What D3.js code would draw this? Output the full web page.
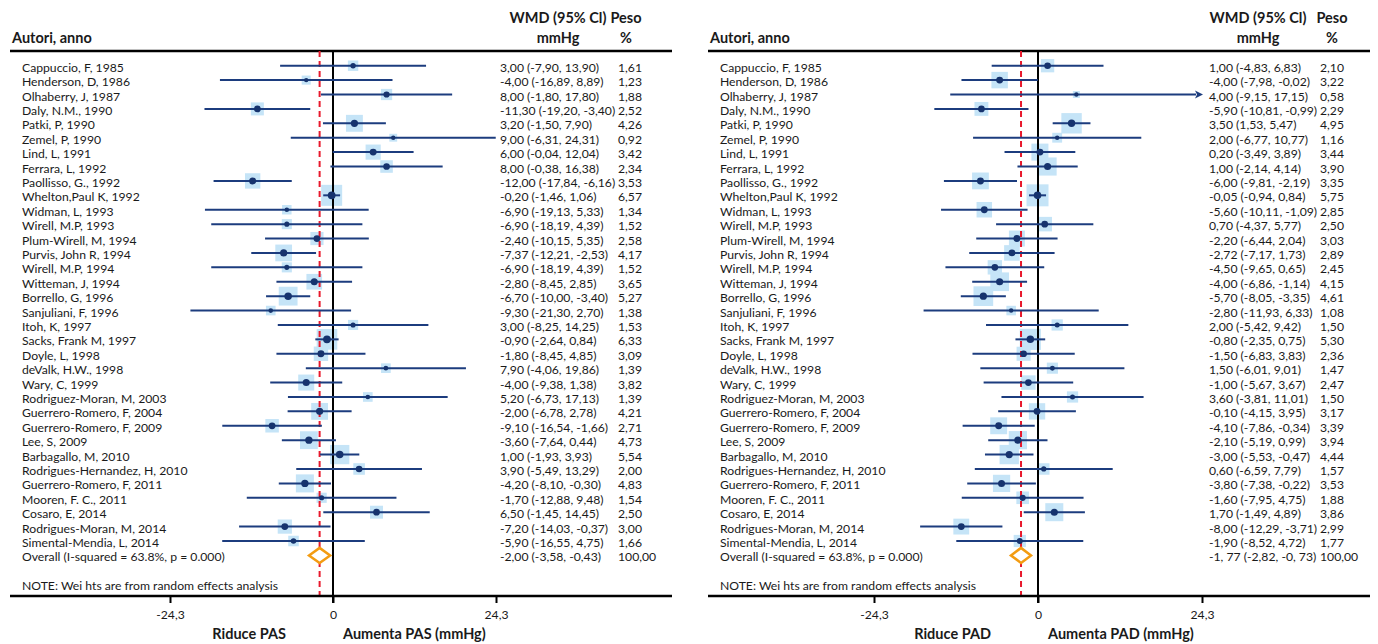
<!DOCTYPE html>
<html>
<head>
<meta charset="utf-8">
<script src="https://cdn.jsdelivr.net/npm/d3@7"></script>
<style>
  body { margin: 0; background: #fff; }
  svg text { font-family: Lato, "Noto Sans", sans-serif; fill: #1a1a1a; }
  .hdr { font-weight: bold; font-size: 14.5px; }
  .row { font-size: 12.2px; }
</style>
</head>
<body>
<svg id="chart" width="1378" height="644"></svg>
<script>
var authors = [
  'Cappuccio, F, 1985', 'Henderson, D, 1986', 'Olhaberry, J, 1987', 'Daly, N.M., 1990',
  'Patki, P, 1990', 'Zemel, P, 1990', 'Lind, L, 1991', 'Ferrara, L, 1992',
  'Paollisso, G., 1992', 'Whelton,Paul K, 1992', 'Widman, L, 1993', 'Wirell, M.P, 1993',
  'Plum-Wirell, M, 1994', 'Purvis, John R, 1994', 'Wirell, M.P, 1994', 'Witteman, J, 1994',
  'Borrello, G, 1996', 'Sanjuliani, F, 1996', 'Itoh, K, 1997', 'Sacks, Frank M, 1997',
  'Doyle, L, 1998', 'deValk, H.W., 1998', 'Wary, C, 1999', 'Rodriguez-Moran, M, 2003',
  'Guerrero-Romero, F, 2004', 'Guerrero-Romero, F, 2009', 'Lee, S, 2009', 'Barbagallo, M, 2010',
  'Rodrigues-Hernandez, H, 2010', 'Guerrero-Romero, F, 2011', 'Mooren, F. C., 2011', 'Cosaro, E, 2014',
  'Rodrigues-Moran, M, 2014', 'Simental-Mendia, L, 2014'
];

// PAS (systolic)
var pasEst = [3.00, -4.00, 8.00, -11.30, 3.20, 9.00, 6.00, 8.00, -12.00, -0.20, -6.90, -6.90, -2.40, -7.37, -6.90, -2.80,
  -6.70, -9.30, 3.00, -0.90, -1.80, 7.90, -4.00, 5.20, -2.00, -9.10, -3.60, 1.00, 3.90, -4.20, -1.70, 6.50, -7.20, -5.90];
var pasLo = [-7.90, -16.89, -1.80, -19.20, -1.50, -6.31, -0.04, -0.38, -17.84, -1.46, -19.13, -18.19, -10.15, -12.21, -18.19, -8.45,
  -10.00, -21.30, -8.25, -2.64, -8.45, -4.06, -9.38, -6.73, -6.78, -16.54, -7.64, -1.93, -5.49, -8.10, -12.88, -1.45, -14.03, -16.55];
var pasHi = [13.90, 8.89, 17.80, -3.40, 7.90, 24.31, 12.04, 16.38, -6.16, 1.06, 5.33, 4.39, 5.35, -2.53, 4.39, 2.85,
  -3.40, 2.70, 14.25, 0.84, 4.85, 19.86, 1.38, 17.13, 2.78, -1.66, 0.44, 3.93, 13.29, -0.30, 9.48, 14.45, -0.37, 4.75];
var pasW = [1.61, 1.23, 1.88, 2.52, 4.26, 0.92, 3.42, 2.34, 3.53, 6.57, 1.34, 1.52, 2.58, 4.17, 1.52, 3.65,
  5.27, 1.38, 1.53, 6.33, 3.09, 1.39, 3.82, 1.39, 4.21, 2.71, 4.73, 5.54, 2.00, 4.83, 1.54, 2.50, 3.00, 1.66];
var pasOverall = [-2.00, -3.58, -0.43];
var pasOverallText = '-2,00 (-3,58, -0,43)';
var pasRange = 24.35;

// PAD (diastolic)
var padEst = [1.00, -4.00, 4.00, -5.90, 3.50, 2.00, 0.20, 1.00, -6.00, -0.05, -5.60, 0.70, -2.20, -2.72, -4.50, -4.00,
  -5.70, -2.80, 2.00, -0.80, -1.50, 1.50, -1.00, 3.60, -0.10, -4.10, -2.10, -3.00, 0.60, -3.80, -1.60, 1.70, -8.00, -1.90];
var padLo = [-4.83, -7.98, -9.15, -10.81, 1.53, -6.77, -3.49, -2.14, -9.81, -0.94, -10.11, -4.37, -6.44, -7.17, -9.65, -6.86,
  -8.05, -11.93, -5.42, -2.35, -6.83, -6.01, -5.67, -3.81, -4.15, -7.86, -5.19, -5.53, -6.59, -7.38, -7.95, -1.49, -12.29, -8.52];
var padHi = [6.83, -0.02, 17.15, -0.99, 5.47, 10.77, 3.89, 4.14, -2.19, 0.84, -1.09, 5.77, 2.04, 1.73, 0.65, -1.14,
  -3.35, 6.33, 9.42, 0.75, 3.83, 9.01, 3.67, 11.01, 3.95, -0.34, 0.99, -0.47, 7.79, -0.22, 4.75, 4.89, -3.71, 4.72];
var padW = [2.10, 3.22, 0.58, 2.29, 4.95, 1.16, 3.44, 3.90, 3.35, 5.75, 2.85, 2.50, 3.03, 2.89, 2.45, 4.15,
  4.61, 1.08, 1.50, 5.30, 2.36, 1.47, 2.47, 1.50, 3.17, 3.39, 3.94, 4.44, 1.57, 3.53, 1.88, 3.86, 2.99, 1.77];
var padOverall = [-1.77, -2.82, -0.73];
var padOverallText = '-1, 77 (-2,82, -0, 73)';
var padRange = 17.1;

var axisTickLabels = ['-24,3', '0', '24,3'];
var overallLabel = 'Overall (I-squared = 63.8%, p = 0.000)';
var noteLabel = 'NOTE: Wei hts are from random effects analysis';

var svg = d3.select('#chart');
var fmt = function(v) { return d3.format('.2f')(v).replace('.', ',').replace('−', '-'); };

var y = d3.scaleLinear().domain([0, 33]).range([65.7, 541]);

function drawPanel(p) {
  var g = svg.append('g');
  var R = p.range;
  var x = d3.scaleLinear().domain([-R, R]).range([p.x0, p.x1]);
  var size = d3.scaleSqrt().domain([0, d3.max(p.w)]).range([0, p.boxMax]);
  var dotR = d3.scaleLinear().domain([1.3, 2, 6.5]).range([2.2, 3.3, 3.9]).clamp(true);
  var rows = authors.map(function(a, i) {
    return { name: a, est: p.est[i], lo: p.lo[i], hi: p.hi[i], w: p.w[i], i: i };
  });
  var clip = function(v) { return Math.max(-R, Math.min(R, v)); };

  // header
  g.append('text').attr('class', 'hdr').attr('x', p.labelX - 10).attr('y', 43).text('Autori, anno');
  g.append('text').attr('class', 'hdr').attr('x', p.wmdX).attr('y', 23).attr('text-anchor', 'middle').text('WMD (95% Cl)');
  g.append('text').attr('class', 'hdr').attr('x', p.wmdX).attr('y', 43).attr('text-anchor', 'middle').text('mmHg');
  g.append('text').attr('class', 'hdr').attr('x', p.pesoHX).attr('y', 23).attr('text-anchor', 'middle').text('Peso');
  g.append('text').attr('class', 'hdr').attr('x', p.pesoHX).attr('y', 43).attr('text-anchor', 'middle').text('%');
  g.append('line').attr('x1', p.lineL).attr('x2', p.lineR).attr('y1', 51).attr('y2', 51)
    .attr('stroke', '#000').attr('stroke-width', 2.5);

  // weight squares
  g.selectAll('rect.box').data(rows).enter().append('rect')
    .attr('class', 'box')
    .attr('x', function(d) { return x(d.est) - size(d.w) / 2; })
    .attr('y', function(d) { return y(d.i) - size(d.w) / 2; })
    .attr('width', function(d) { return size(d.w); })
    .attr('height', function(d) { return size(d.w); })
    .attr('fill', '#c5e4f7');

  // zero line
  g.append('line').attr('x1', x(0)).attr('x2', x(0)).attr('y1', 51).attr('y2', 603)
    .attr('stroke', '#000').attr('stroke-width', 2);

  // overall dashed line
  g.append('line').attr('x1', x(p.overall[0])).attr('x2', x(p.overall[0])).attr('y1', 51).attr('y2', 601)
    .attr('stroke', '#e8192c').attr('stroke-width', 2).attr('stroke-dasharray', '6,4');

  // CI lines
  g.selectAll('line.ci').data(rows).enter().append('line')
    .attr('class', 'ci')
    .attr('x1', function(d) { return x(clip(d.lo)); })
    .attr('x2', function(d) { return x(clip(d.hi)) - (d.hi > R ? 6 : 0); })
    .attr('y1', function(d) { return y(d.i); })
    .attr('y2', function(d) { return y(d.i); })
    .attr('stroke', '#1c3c7e').attr('stroke-width', 2);

  // arrows for clipped CIs
  g.selectAll('path.arrow').data(rows.filter(function(d) { return d.hi > R; })).enter().append('path')
    .attr('class', 'arrow')
    .attr('d', function(d) {
      var xe = x(R) + 1, yy = y(d.i);
      return 'M' + xe + ',' + yy + 'L' + (xe - 8) + ',' + (yy - 4) + 'L' + (xe - 6) + ',' + yy + 'L' + (xe - 8) + ',' + (yy + 4) + 'Z';
    })
    .attr('fill', '#1c3c7e');

  // point estimates
  g.selectAll('circle.dot').data(rows).enter().append('circle')
    .attr('class', 'dot')
    .attr('cx', function(d) { return x(d.est); })
    .attr('cy', function(d) { return y(d.i); })
    .attr('r', function(d) { return dotR(d.w); })
    .attr('fill', '#16336e');

  // overall diamond
  var oy = y(34);
  g.append('path')
    .attr('d', 'M' + x(p.overall[1]) + ',' + oy + 'L' + x(p.overall[0]) + ',' + (oy - 7.5) + 'L' + x(p.overall[2]) + ',' + oy +
      'L' + x(p.overall[0]) + ',' + (oy + 7.5) + 'Z')
    .attr('fill', '#fff').attr('stroke', '#f39c12').attr('stroke-width', 2.5);

  // texts
  g.selectAll('text.name').data(rows).enter().append('text')
    .attr('class', 'row').attr('x', p.labelX).attr('y', function(d) { return y(d.i) + 6; })
    .text(function(d) { return d.name; });
  g.selectAll('text.ci').data(rows).enter().append('text')
    .attr('class', 'row').attr('x', p.ciX).attr('y', function(d) { return y(d.i) + 6; })
    .text(function(d) { return fmt(d.est) + ' (' + fmt(d.lo) + ', ' + fmt(d.hi) + ')'; });
  g.selectAll('text.w').data(rows).enter().append('text')
    .attr('class', 'row').attr('x', p.pesoX).attr('y', function(d) { return y(d.i) + 6; })
    .text(function(d) { return fmt(d.w); });

  g.append('text').attr('class', 'row').attr('x', p.labelX).attr('y', y(34) + 6).text(overallLabel);
  g.append('text').attr('class', 'row').attr('x', p.ciX).attr('y', y(34) + 6).text(p.overallText);
  g.append('text').attr('class', 'row').attr('x', p.pesoX).attr('y', y(34) + 6).text('100,00');
  g.append('text').attr('class', 'row').attr('x', p.labelX).attr('y', y(36) + 6).text(noteLabel);

  // bottom axis
  g.append('line').attr('x1', p.lineL).attr('x2', p.lineR).attr('y1', 596).attr('y2', 596)
    .attr('stroke', '#000').attr('stroke-width', 2.5);
  var ax = g.append('g').attr('transform', 'translate(0,596)')
    .call(d3.axisBottom(x).tickValues([-R, 0, R]).tickSize(7)
      .tickFormat(function(d, i) { return axisTickLabels[i]; }));
  ax.select('.domain').remove();
  ax.selectAll('line').attr('stroke', '#000').attr('stroke-width', 2);
  ax.selectAll('text').attr('class', 'row').attr('dy', '1.1em').style('font-size', '12.2px')
    .attr('fill', '#1a1a1a');

  g.append('text').attr('class', 'hdr').attr('x', x(0) - 47).attr('y', 639).attr('text-anchor', 'end').text(p.left);
  g.append('text').attr('class', 'hdr').attr('x', x(0) + 10).attr('y', 639).text(p.right);
}

drawPanel({
  x0: 170, x1: 496, range: pasRange, boxMax: 21, lineL: 10, lineR: 672, labelX: 22, ciX: 500, pesoX: 618, wmdX: 558, pesoHX: 626,
  est: pasEst, lo: pasLo, hi: pasHi, w: pasW, overall: pasOverall, overallText: pasOverallText,
  left: 'Riduce PAS', right: 'Aumenta PAS (mmHg)'
});
drawPanel({
  x0: 874, x1: 1202, range: padRange, boxMax: 22, lineL: 708, lineR: 1370, labelX: 720, ciX: 1209, pesoX: 1320, wmdX: 1258, pesoHX: 1332,
  est: padEst, lo: padLo, hi: padHi, w: padW, overall: padOverall, overallText: padOverallText,
  left: 'Riduce PAD', right: 'Aumenta PAD (mmHg)'
});
</script>
</body>
</html>
